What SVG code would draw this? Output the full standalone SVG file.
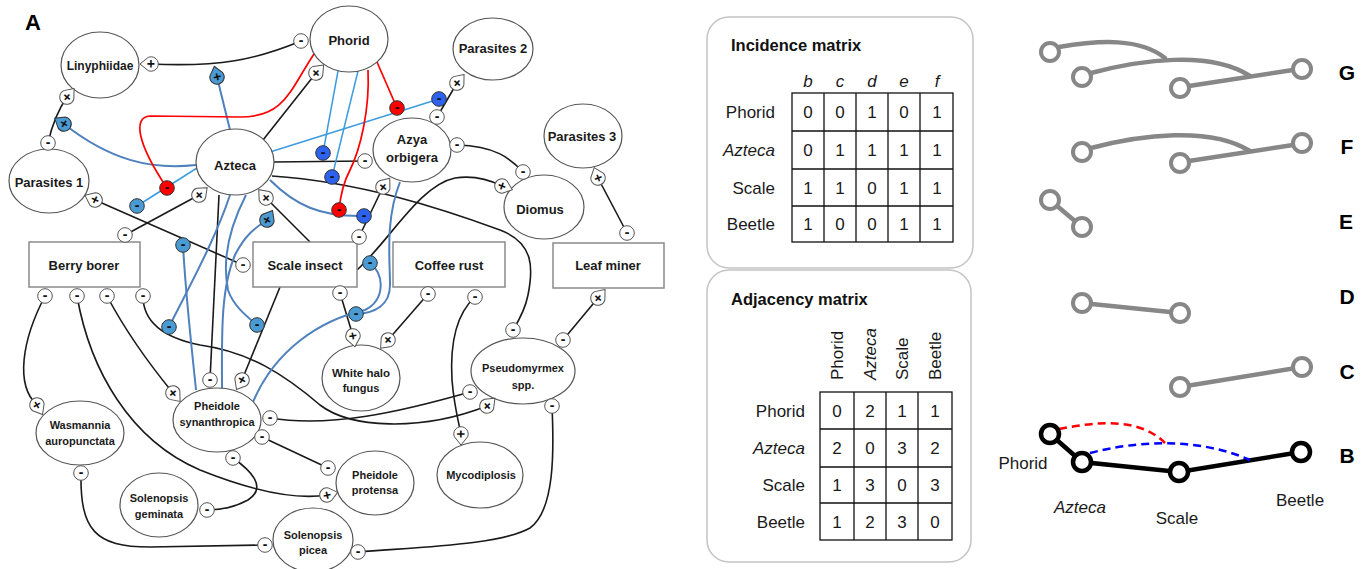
<svg xmlns="http://www.w3.org/2000/svg" xmlns:xlink="http://www.w3.org/1999/xlink" width="1369" height="569" viewBox="0 0 1369 569">
<style>
.nd{fill:#fff;stroke:#555;stroke-width:1.2}
.bx{fill:#fff;stroke:#8a8a8a;stroke-width:1.5}
.t{font-family:"Liberation Sans",Arial,sans-serif;font-weight:bold;font-size:13px;fill:#1a1a1a;text-anchor:middle}
.ts{font-family:"Liberation Sans",Arial,sans-serif;font-weight:bold;font-size:11px;fill:#1a1a1a;text-anchor:middle}
.sg{font-family:"Liberation Sans",Arial,sans-serif;font-weight:bold;font-size:14px;fill:#111;text-anchor:middle}
.k{fill:none;stroke:#1a1a1a;stroke-width:1.6}
.sb{fill:none;stroke:#4f81bd;stroke-width:2}
.lb{fill:none;stroke:#3d9be0;stroke-width:1.5}
.rd{fill:none;stroke:#f00;stroke-width:1.7}
.card{fill:#fff;stroke:#c4c4c4;stroke-width:1.5}
.ttl{font-family:"Liberation Sans",Arial,sans-serif;font-weight:bold;font-size:16.5px;fill:#111}
.m{font-family:"Liberation Sans",Arial,sans-serif;font-size:17px;fill:#1a1a1a}
.mc{font-family:"Liberation Sans",Arial,sans-serif;font-size:17px;fill:#1a1a1a;text-anchor:middle}
.mr{font-family:"Liberation Sans",Arial,sans-serif;font-size:17px;fill:#1a1a1a;text-anchor:end}
.it{font-style:italic}
.grid{fill:none;stroke:#111;stroke-width:1.3}
.lab{font-family:"Liberation Sans",Arial,sans-serif;font-weight:bold;font-size:21px;fill:#000;text-anchor:middle}
.gl{fill:none;stroke:#878787;stroke-width:4.5;stroke-linecap:round}
.gn{fill:#fff;stroke:#878787;stroke-width:4}
.bl{fill:none;stroke:#000;stroke-width:4.5}
.bn{fill:#fff;stroke:#000;stroke-width:4.5}
</style>
<defs>
<g id="mw"><circle r="7.3" fill="#fff" stroke="#555" stroke-width="1"/><text class="sg" y="4.3">-</text></g>
<g id="ms"><circle r="7.3" fill="#4a9ad3" stroke="#333" stroke-width="1"/><text class="sg" y="4.3">-</text></g>
<g id="mb"><circle r="7.3" fill="#2d62ee" stroke="#333" stroke-width="1"/><text class="sg" y="4.3">-</text></g>
<g id="mr"><circle r="7.3" fill="#f00" stroke="#333" stroke-width="1"/><text class="sg" y="4.3">-</text></g>
<g id="pw"><path d="M11,0 L2.8,-6.6 A7.2,7.2 0 1 0 2.8,6.6 Z" fill="#fff" stroke="#555" stroke-width="1"/><text class="sg" y="4.8">+</text></g>
<g id="pb"><path d="M11,0 L2.8,-6.6 A7.2,7.2 0 1 0 2.8,6.6 Z" fill="#4a9ad3" stroke="#333" stroke-width="1"/><text class="sg" y="4.8">+</text></g>
</defs>
<rect width="1369" height="569" fill="#fff"/>
<text x="33" y="30" class="lab" style="font-size:22px">A</text>

<g id="connectors">
<path class="k" d="M151,64 C220,67 255,60 301,41"/>
<path class="k" d="M67,97 C58,110 52,125 48,143"/>
<path class="k" d="M95,200 L243,265"/>
<path class="k" d="M125,235 L199,195"/>
<path class="k" d="M266,198 L310,242"/>
<path class="k" d="M263,140 L316,73"/>
<path class="k" d="M273,162 L365,161"/>
<path class="k" d="M272,176 C360,182 440,208 500,230 C535,243 533,270 528,295 C525,310 518,322 513,330"/>
<path class="k" d="M437,117 L457,83"/>
<path class="k" d="M457,145 C495,146 510,158 523,172"/>
<path class="k" d="M359,237 L383,187"/>
<path class="k" d="M357,270 C390,240 420,185 455,178 C475,175 490,180 502,186"/>
<path class="k" d="M598,178 L627,233"/>
<path class="k" d="M598,298 L563,340"/>
<path class="k" d="M428,294 L388,340"/>
<path class="k" d="M475,297 C455,315 450,345 452,380 C454,405 458,420 461,434"/>
<path class="k" d="M340,293 L353,336"/>
<path class="k" d="M552,406 C554,450 555,510 530,528 C500,545 420,547 358,552"/>
<path class="k" d="M270,418 C330,428 400,412 470,392"/>
<path class="k" d="M143,296 C143,320 160,337 200,345 C250,352 285,375 320,405 C350,428 420,432 487,406"/>
<path class="k" d="M262,437 L328,468"/>
<path class="k" d="M77,296 C90,370 130,440 200,470 C250,490 295,500 327,495"/>
<path class="k" d="M233,458 C250,470 268,487 248,500 C235,507 220,510 207,510"/>
<path class="k" d="M45,296 C22,340 15,385 37,405"/>
<path class="k" d="M107,296 C125,330 150,365 173,393"/>
<path class="k" d="M81,473 C80,530 95,547 150,547 L265,545"/>
<path class="k" d="M219,195 L210,380"/>
<path class="k" d="M280,287 L242,380"/>
<path class="sb" d="M230,130 L217,77"/>
<path class="sb" d="M196,165 C150,170 110,160 64,124"/>
<path class="sb" d="M230,195 C215,240 190,285 169,327"/>
<path class="sb" d="M183,245 C186,300 192,350 196,390"/>
<path class="sb" d="M222,388 C222,340 220,290 235,255 C245,235 255,228 267,220"/>
<path class="sb" d="M246,195 C228,230 222,260 228,290 C233,305 245,315 257,325"/>
<path class="sb" d="M270,180 C295,205 320,217 364,216"/>
<path class="sb" d="M400,182 C385,220 390,260 390,285 C390,305 375,313 356,314"/>
<path class="sb" d="M253,402 C275,350 320,320 365,310 C385,300 385,275 370,263"/>
<path class="lb" d="M197,168 L137,206"/>
<path class="lb" d="M270,152 L439,99"/>
<path class="lb" d="M338,71 L323,153"/>
<path class="lb" d="M358,71 L332,177"/>
<path class="rd" d="M314,54 C290,90 285,117 240,117 L150,116 C132,117 138,145 167,188"/>
<path class="rd" d="M368,70 C370,110 360,150 350,170 C342,185 340,200 339,210"/>
<path class="rd" d="M377,62 L397,108"/>
</g>

<g id="n-phorid"><ellipse class="nd" cx="349" cy="39" rx="39" ry="33"/><text class="t" x="349" y="45">Phorid</text></g>
<g id="n-linyphiidae"><ellipse class="nd" cx="100" cy="65" rx="39" ry="33"/><text class="t" x="100" y="70" style="font-size:12px">Linyphiidae</text></g>
<g id="n-parasites2"><ellipse class="nd" cx="493" cy="49" rx="40" ry="31"/><text class="t" x="493" y="53">Parasites 2</text></g>
<g id="n-parasites1"><ellipse class="nd" cx="49" cy="181" rx="40" ry="32"/><text class="t" x="49" y="187">Parasites 1</text></g>
<g id="n-azteca"><ellipse class="nd" cx="235" cy="162" rx="39" ry="33"/><text class="t" x="235" y="170">Azteca</text></g>
<g id="n-azya"><ellipse class="nd" cx="412" cy="150" rx="39" ry="32"/><text class="t" x="412" y="144">Azya</text><text class="t" x="412" y="162">orbigera</text></g>
<g id="n-parasites3"><ellipse class="nd" cx="583" cy="136" rx="39" ry="32"/><text class="t" x="582" y="141">Parasites 3</text></g>
<g id="n-diomus"><ellipse class="nd" cx="544" cy="207" rx="40" ry="32"/><text class="t" x="540" y="214">Diomus</text></g>
<g id="n-berry"><rect class="bx" x="29" y="242" width="111" height="45"/><text class="t" x="84" y="270">Berry borer</text></g>
<g id="n-scale"><rect class="bx" x="253" y="242" width="104" height="45"/><text class="t" x="305" y="270">Scale insect</text></g>
<g id="n-coffee"><rect class="bx" x="393" y="242" width="112" height="45"/><text class="t" x="449" y="270">Coffee rust</text></g>
<g id="n-leaf"><rect class="bx" x="553" y="243" width="111" height="45"/><text class="t" x="608" y="270">Leaf miner</text></g>
<g id="n-whitehalo"><ellipse class="nd" cx="361" cy="378" rx="39" ry="33"/><text class="ts" x="361" y="377" style="font-size:11.5px">White halo</text><text class="ts" x="361" y="392">fungus</text></g>
<g id="n-pseudomyrmex"><ellipse class="nd" cx="523" cy="371" rx="52" ry="33"/><text class="ts" x="523" y="372">Pseudomyrmex</text><text class="ts" x="523" y="389">spp.</text></g>
<g id="n-pheidole-syn"><ellipse class="nd" cx="217" cy="420" rx="44" ry="32"/><text class="ts" x="217" y="410">Pheidole</text><text class="ts" x="217" y="426">synanthropica</text></g>
<g id="n-wasmannia"><ellipse class="nd" cx="80" cy="433" rx="44" ry="32"/><text class="ts" x="80" y="429">Wasmannia</text><text class="ts" x="80" y="445">auropunctata</text></g>
<g id="n-sol-gem"><ellipse class="nd" cx="159" cy="505" rx="39" ry="32"/><text class="ts" x="159" y="502">Solenopsis</text><text class="ts" x="159" y="518">geminata</text></g>
<g id="n-pheidole-pro"><ellipse class="nd" cx="375" cy="483" rx="39" ry="32"/><text class="ts" x="375" y="479">Pheidole</text><text class="ts" x="375" y="494">protensa</text></g>
<g id="n-mycodiplosis"><ellipse class="nd" cx="480" cy="475" rx="43" ry="33"/><text class="ts" x="481" y="479">Mycodiplosis</text></g>
<g id="n-sol-picea"><ellipse class="nd" cx="313" cy="540" rx="40" ry="32"/><text class="ts" x="313" y="539">Solenopsis</text><text class="ts" x="313" y="554">picea</text></g>

<g id="signs">
<use xlink:href="#pw" transform="translate(151,64) rotate(180)"/>
<use xlink:href="#pw" transform="translate(67,97) rotate(-50)"/>
<use xlink:href="#pb" transform="translate(217,77) rotate(-104)"/>
<use xlink:href="#pb" transform="translate(64,124) rotate(-148)"/>
<use xlink:href="#pw" transform="translate(95,200) rotate(-155)"/>
<use xlink:href="#pw" transform="translate(199,195) rotate(-42)"/>
<use xlink:href="#pw" transform="translate(266,198) rotate(-131)"/>
<use xlink:href="#pb" transform="translate(267,220) rotate(-60)"/>
<use xlink:href="#pw" transform="translate(316,73) rotate(-46)"/>
<use xlink:href="#pw" transform="translate(457,83) rotate(-50)"/>
<use xlink:href="#pw" transform="translate(383,187) rotate(-52)"/>
<use xlink:href="#pw" transform="translate(502,186) rotate(20)"/>
<use xlink:href="#pw" transform="translate(598,178) rotate(-110)"/>
<use xlink:href="#pw" transform="translate(598,298) rotate(-50)"/>
<use xlink:href="#pw" transform="translate(353,336) rotate(80)"/>
<use xlink:href="#pw" transform="translate(388,340) rotate(132)"/>
<use xlink:href="#pw" transform="translate(487,406) rotate(-44)"/>
<use xlink:href="#pw" transform="translate(461,434) rotate(90)"/>
<use xlink:href="#pw" transform="translate(327,495) rotate(-14)"/>
<use xlink:href="#pw" transform="translate(242,380) rotate(120)"/>
<use xlink:href="#pw" transform="translate(173,393) rotate(50)"/>
<use xlink:href="#pw" transform="translate(37,405) rotate(60)"/>
<use xlink:href="#mw" x="301" y="41"/>
<use xlink:href="#mw" x="48" y="143"/>
<use xlink:href="#mw" x="365" y="161"/>
<use xlink:href="#mw" x="437" y="117"/>
<use xlink:href="#mw" x="457" y="145"/>
<use xlink:href="#mw" x="523" y="172"/>
<use xlink:href="#mw" x="125" y="235"/>
<use xlink:href="#mw" x="243" y="265"/>
<use xlink:href="#mw" x="359" y="237"/>
<use xlink:href="#mw" x="627" y="233"/>
<use xlink:href="#mw" x="45" y="296"/>
<use xlink:href="#mw" x="77" y="296"/>
<use xlink:href="#mw" x="107" y="296"/>
<use xlink:href="#mw" x="143" y="296"/>
<use xlink:href="#mw" x="340" y="293"/>
<use xlink:href="#mw" x="428" y="294"/>
<use xlink:href="#mw" x="475" y="297"/>
<use xlink:href="#mw" x="513" y="330"/>
<use xlink:href="#mw" x="470" y="392"/>
<use xlink:href="#mw" x="552" y="406"/>
<use xlink:href="#mw" x="563" y="340"/>
<use xlink:href="#mw" x="210" y="380"/>
<use xlink:href="#mw" x="270" y="418"/>
<use xlink:href="#mw" x="262" y="437"/>
<use xlink:href="#mw" x="233" y="458"/>
<use xlink:href="#mw" x="328" y="468"/>
<use xlink:href="#mw" x="207" y="510"/>
<use xlink:href="#mw" x="81" y="473"/>
<use xlink:href="#mw" x="265" y="545"/>
<use xlink:href="#mw" x="358" y="552"/>
<use xlink:href="#ms" x="137" y="206"/>
<use xlink:href="#ms" x="183" y="245"/>
<use xlink:href="#ms" x="169" y="327"/>
<use xlink:href="#ms" x="257" y="325"/>
<use xlink:href="#ms" x="370" y="263"/>
<use xlink:href="#ms" x="356" y="314"/>
<use xlink:href="#mb" x="323" y="153"/>
<use xlink:href="#mb" x="332" y="177"/>
<use xlink:href="#mb" x="364" y="216"/>
<use xlink:href="#mb" x="439" y="99"/>
<use xlink:href="#mr" x="167" y="188"/>
<use xlink:href="#mr" x="339" y="210"/>
<use xlink:href="#mr" x="397" y="108"/>
</g>

<g id="incidence-matrix">
<rect class="card" x="707" y="17" width="266" height="251" rx="22"/>
<text class="ttl" x="731" y="51">Incidence matrix</text>
<text class="mc it" x="808" y="87">b</text><text class="mc it" x="840" y="87">c</text><text class="mc it" x="872" y="87">d</text><text class="mc it" x="904" y="87">e</text><text class="mc it" x="937" y="87">f</text>
<rect class="grid" x="792" y="93" width="161" height="149"/>
<path class="grid" d="M824,93V242M856,93V242M888,93V242M920,93V242M792,131H953M792,169H953M792,206H953"/>
<text class="mr" x="775" y="118">Phorid</text><text class="mr it" x="775" y="156">Azteca</text><text class="mr" x="775" y="194">Scale</text><text class="mr" x="775" y="230">Beetle</text>
<text class="mc" x="808" y="118">0</text><text class="mc" x="840" y="118">0</text><text class="mc" x="872" y="118">1</text><text class="mc" x="904" y="118">0</text><text class="mc" x="937" y="118">1</text>
<text class="mc" x="808" y="156">0</text><text class="mc" x="840" y="156">1</text><text class="mc" x="872" y="156">1</text><text class="mc" x="904" y="156">1</text><text class="mc" x="937" y="156">1</text>
<text class="mc" x="808" y="194">1</text><text class="mc" x="840" y="194">1</text><text class="mc" x="872" y="194">0</text><text class="mc" x="904" y="194">1</text><text class="mc" x="937" y="194">1</text>
<text class="mc" x="808" y="230">1</text><text class="mc" x="840" y="230">0</text><text class="mc" x="872" y="230">0</text><text class="mc" x="904" y="230">1</text><text class="mc" x="937" y="230">1</text>
</g>

<g id="adjacency-matrix">
<rect class="card" x="707" y="270" width="264" height="292" rx="22"/>
<text class="ttl" x="731" y="305">Adjacency matrix</text>
<text class="m" transform="translate(843,380) rotate(-90)">Phorid</text>
<text class="m it" transform="translate(876,380) rotate(-90)">Azteca</text>
<text class="m" transform="translate(908,380) rotate(-90)">Scale</text>
<text class="m" transform="translate(941,380) rotate(-90)">Beetle</text>
<rect class="grid" x="820" y="392" width="132" height="148"/>
<path class="grid" d="M854,392V540M886,392V540M918,392V540M820,429H952M820,467H952M820,503H952"/>
<text class="mr" x="805" y="417">Phorid</text><text class="mr it" x="805" y="454">Azteca</text><text class="mr" x="805" y="491">Scale</text><text class="mr" x="805" y="528">Beetle</text>
<text class="mc" x="837" y="417">0</text><text class="mc" x="870" y="417">2</text><text class="mc" x="902" y="417">1</text><text class="mc" x="935" y="417">1</text>
<text class="mc" x="837" y="454">2</text><text class="mc" x="870" y="454">0</text><text class="mc" x="902" y="454">3</text><text class="mc" x="935" y="454">2</text>
<text class="mc" x="837" y="491">1</text><text class="mc" x="870" y="491">3</text><text class="mc" x="902" y="491">0</text><text class="mc" x="935" y="491">3</text>
<text class="mc" x="837" y="528">1</text><text class="mc" x="870" y="528">2</text><text class="mc" x="902" y="528">3</text><text class="mc" x="935" y="528">0</text>
</g>

<g id="hypergraph-G">
<path class="gl" d="M1059,47 C1100,40 1140,38 1165,58"/>
<path class="gl" d="M1091,73 C1140,60 1210,50 1250,76"/>
<path class="gl" d="M1189,86 L1293,70"/>
<circle class="gn" cx="1050" cy="52" r="9"/><circle class="gn" cx="1082" cy="77" r="9"/><circle class="gn" cx="1180" cy="88" r="9"/><circle class="gn" cx="1302" cy="69" r="9"/>
<text class="lab" x="1347" y="80">G</text>
</g>
<g id="hypergraph-F">
<path class="gl" d="M1091,148 C1140,135 1210,126 1250,151"/>
<path class="gl" d="M1189,161 L1293,145"/>
<circle class="gn" cx="1082" cy="152" r="9"/><circle class="gn" cx="1180" cy="163" r="9"/><circle class="gn" cx="1302" cy="143" r="9"/>
<text class="lab" x="1347" y="154">F</text>
</g>
<g id="hypergraph-E">
<path class="gl" d="M1050,200 L1082,227"/>
<circle class="gn" cx="1050" cy="200" r="9"/><circle class="gn" cx="1082" cy="227" r="9"/>
<text class="lab" x="1346" y="229">E</text>
</g>
<g id="hypergraph-D">
<path class="gl" d="M1082,303 L1180,313"/>
<circle class="gn" cx="1082" cy="303" r="9"/><circle class="gn" cx="1180" cy="313" r="9"/>
<text class="lab" x="1347" y="304">D</text>
</g>
<g id="hypergraph-C">
<path class="gl" d="M1180,387 L1302,367"/>
<circle class="gn" cx="1180" cy="387" r="9"/><circle class="gn" cx="1302" cy="367" r="9"/>
<text class="lab" x="1347" y="379">C</text>
</g>
<g id="graph-B">
<path class="bl" d="M1050,434 L1082,462 L1179,472 L1301,452"/>
<path d="M1059,429 C1100,421 1140,418 1165,443" fill="none" stroke="#f00" stroke-width="2.5" stroke-dasharray="8,5"/>
<path d="M1090,453 C1140,440 1200,438 1250,460" fill="none" stroke="#00f" stroke-width="2.5" stroke-dasharray="8,5"/>
<circle class="bn" cx="1050" cy="434" r="9"/><circle class="bn" cx="1082" cy="462" r="9"/><circle class="bn" cx="1179" cy="472" r="9"/><circle class="bn" cx="1301" cy="452" r="9"/>
<text class="mc" x="1023" y="469">Phorid</text>
<text class="mc it" x="1080" y="513">Azteca</text>
<text class="mc" x="1177" y="524">Scale</text>
<text class="mc" x="1300" y="506">Beetle</text>
<text class="lab" x="1347" y="463">B</text>
</g>
</svg>
